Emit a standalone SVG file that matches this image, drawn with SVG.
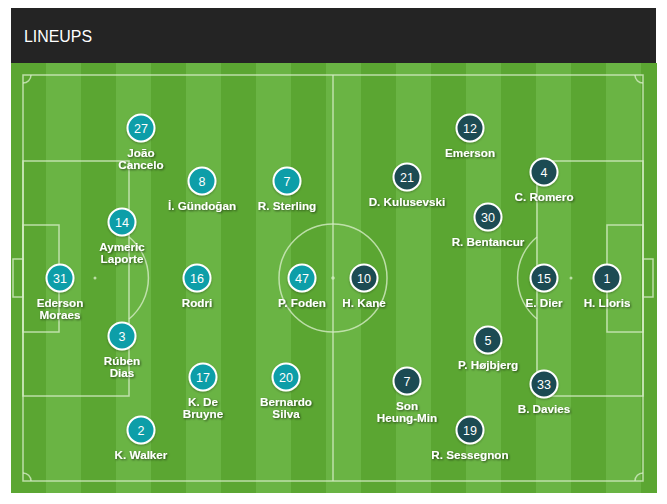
<svg xmlns="http://www.w3.org/2000/svg" width="667" height="504" viewBox="0 0 667 504">
<defs>
<style>
.hdr{fill:#242424}
.title{fill:#fff;font-family:"Liberation Sans",Arial,sans-serif;font-size:16px}
.dk{fill:#5ba632}
.lt{fill:#6ab444}
.ln{fill:none;stroke:#d4ecc4;stroke-opacity:0.8;stroke-width:1.5}
.spot{fill:#d4ecc4;fill-opacity:0.8}
.c{stroke:#fff;stroke-width:2}
.city{fill:#0b9ea8}
.spurs{fill:#1d4b53}
.num{fill:#fff;font-family:"Liberation Sans",Arial,sans-serif;font-size:12.5px;text-anchor:middle}
.nm{fill:#fff;font-family:"Liberation Sans",Arial,sans-serif;font-size:11.7px;font-weight:bold;text-anchor:middle;filter:url(#sh)}
</style>
<filter id="sh" x="-20%" y="-50%" width="140%" height="200%">
<feDropShadow dx="1" dy="1" stdDeviation="0.9" flood-color="#000" flood-opacity="0.6"/>
</filter>
<filter id="csh" x="-30%" y="-30%" width="160%" height="160%">
<feDropShadow dx="0" dy="1" stdDeviation="1" flood-color="#000" flood-opacity="0.3"/>
</filter>
</defs>
<rect width="667" height="504" fill="#fff"/>
<g id="header">
<rect class="hdr" x="11" y="8" width="645" height="55"/>
<text class="title" x="24" y="42" textLength="68" lengthAdjust="spacingAndGlyphs">LINEUPS</text>
</g>
<g id="pitch">
<rect class="dk" x="11" y="63" width="646" height="430"/>
<rect class="lt" x="46" y="63" width="35" height="430"/>
<rect class="lt" x="116" y="63" width="35" height="430"/>
<rect class="lt" x="186" y="63" width="35" height="430"/>
<rect class="lt" x="256" y="63" width="35" height="430"/>
<rect class="lt" x="326" y="63" width="35" height="430"/>
<rect class="lt" x="396" y="63" width="35" height="430"/>
<rect class="lt" x="466" y="63" width="35" height="430"/>
<rect class="lt" x="536" y="63" width="35" height="430"/>
<rect class="lt" x="606" y="63" width="35" height="430"/>
<rect class="ln" x="23" y="75" width="620" height="406"/>
<line class="ln" x1="333" y1="75" x2="333" y2="481"/>
<circle class="ln" cx="333" cy="278" r="54"/>
<circle class="spot" cx="333" cy="278" r="1.8"/>
<rect class="ln" x="23" y="161" width="106" height="235"/>
<rect class="ln" x="23" y="225" width="36" height="107"/>
<rect class="ln" x="13" y="259" width="10" height="38"/>
<circle class="spot" cx="95" cy="278" r="1.5"/>
<path class="ln" d="M129 237 A53 53 0 0 1 129 319"/>
<rect class="ln" x="537" y="161" width="106" height="235"/>
<rect class="ln" x="607" y="225" width="36" height="107"/>
<rect class="ln" x="643" y="259" width="10" height="38"/>
<circle class="spot" cx="571" cy="278" r="1.5"/>
<path class="ln" d="M537 237 A53 53 0 0 0 537 319"/>
<path class="ln" d="M23 83 A8 8 0 0 0 31 75"/>
<path class="ln" d="M635 75 A8 8 0 0 0 643 83"/>
<path class="ln" d="M23 473 A8 8 0 0 1 31 481"/>
<path class="ln" d="M635 481 A8 8 0 0 1 643 473"/>
</g>
<g id="p-cancelo" transform="translate(141,128)"><circle class="c city" r="13.5" filter="url(#csh)"/><text class="num" y="4.5">27</text><text class="nm" y="29">João</text><text class="nm" y="41">Cancelo</text></g>
<g id="p-gundogan" transform="translate(202,181)"><circle class="c city" r="13.5" filter="url(#csh)"/><text class="num" y="4.5">8</text><text class="nm" y="29">İ. Gündoğan</text></g>
<g id="p-laporte" transform="translate(122,222)"><circle class="c city" r="13.5" filter="url(#csh)"/><text class="num" y="4.5">14</text><text class="nm" y="29">Aymeric</text><text class="nm" y="41">Laporte</text></g>
<g id="p-ederson" transform="translate(60,278)"><circle class="c city" r="13.5" filter="url(#csh)"/><text class="num" y="4.5">31</text><text class="nm" y="29">Ederson</text><text class="nm" y="41">Moraes</text></g>
<g id="p-rodri" transform="translate(197,278)"><circle class="c city" r="13.5" filter="url(#csh)"/><text class="num" y="4.5">16</text><text class="nm" y="29">Rodri</text></g>
<g id="p-dias" transform="translate(122,336)"><circle class="c city" r="13.5" filter="url(#csh)"/><text class="num" y="4.5">3</text><text class="nm" y="29">Rúben</text><text class="nm" y="41">Dias</text></g>
<g id="p-debruyne" transform="translate(203,377)"><circle class="c city" r="13.5" filter="url(#csh)"/><text class="num" y="4.5">17</text><text class="nm" y="29">K. De</text><text class="nm" y="41">Bruyne</text></g>
<g id="p-walker" transform="translate(141,430)"><circle class="c city" r="13.5" filter="url(#csh)"/><text class="num" y="4.5">2</text><text class="nm" y="29">K. Walker</text></g>
<g id="p-sterling" transform="translate(287,181)"><circle class="c city" r="13.5" filter="url(#csh)"/><text class="num" y="4.5">7</text><text class="nm" y="29">R. Sterling</text></g>
<g id="p-foden" transform="translate(302,278)"><circle class="c city" r="13.5" filter="url(#csh)"/><text class="num" y="4.5">47</text><text class="nm" y="29">P. Foden</text></g>
<g id="p-silva" transform="translate(286,377)"><circle class="c city" r="13.5" filter="url(#csh)"/><text class="num" y="4.5">20</text><text class="nm" y="29">Bernardo</text><text class="nm" y="41">Silva</text></g>
<g id="p-kane" transform="translate(364,278)"><circle class="c spurs" r="13.5" filter="url(#csh)"/><text class="num" y="4.5">10</text><text class="nm" y="29">H. Kane</text></g>
<g id="p-kulusevski" transform="translate(407,177)"><circle class="c spurs" r="13.5" filter="url(#csh)"/><text class="num" y="4.5">21</text><text class="nm" y="29">D. Kulusevski</text></g>
<g id="p-emerson" transform="translate(470,128)"><circle class="c spurs" r="13.5" filter="url(#csh)"/><text class="num" y="4.5">12</text><text class="nm" y="29">Emerson</text></g>
<g id="p-romero" transform="translate(544,172)"><circle class="c spurs" r="13.5" filter="url(#csh)"/><text class="num" y="4.5">4</text><text class="nm" y="29">C. Romero</text></g>
<g id="p-bentancur" transform="translate(488,217)"><circle class="c spurs" r="13.5" filter="url(#csh)"/><text class="num" y="4.5">30</text><text class="nm" y="29">R. Bentancur</text></g>
<g id="p-dier" transform="translate(544,278)"><circle class="c spurs" r="13.5" filter="url(#csh)"/><text class="num" y="4.5">15</text><text class="nm" y="29">E. Dier</text></g>
<g id="p-lloris" transform="translate(607,278)"><circle class="c spurs" r="13.5" filter="url(#csh)"/><text class="num" y="4.5">1</text><text class="nm" y="29">H. Lloris</text></g>
<g id="p-hojbjerg" transform="translate(488,340)"><circle class="c spurs" r="13.5" filter="url(#csh)"/><text class="num" y="4.5">5</text><text class="nm" y="29">P. Højbjerg</text></g>
<g id="p-davies" transform="translate(544,384)"><circle class="c spurs" r="13.5" filter="url(#csh)"/><text class="num" y="4.5">33</text><text class="nm" y="29">B. Davies</text></g>
<g id="p-sessegnon" transform="translate(470,430)"><circle class="c spurs" r="13.5" filter="url(#csh)"/><text class="num" y="4.5">19</text><text class="nm" y="29">R. Sessegnon</text></g>
<g id="p-son" transform="translate(407,381)"><circle class="c spurs" r="13.5" filter="url(#csh)"/><text class="num" y="4.5">7</text><text class="nm" y="29">Son</text><text class="nm" y="41">Heung-Min</text></g>
<g id="connectors"/>
</svg>
